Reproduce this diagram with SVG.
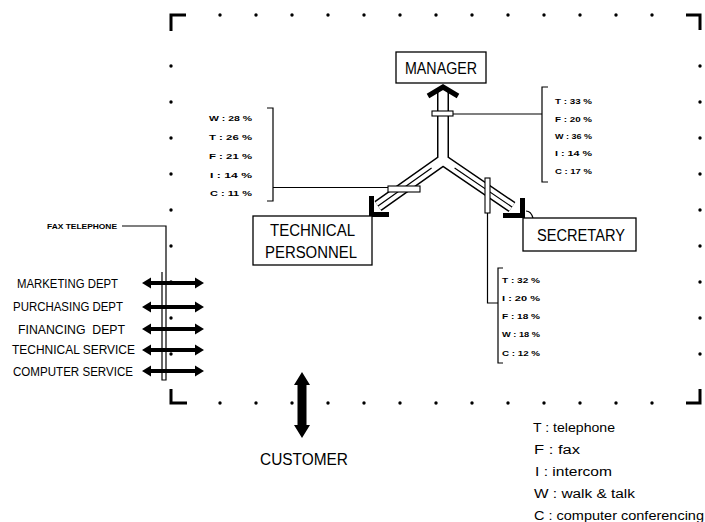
<svg xmlns="http://www.w3.org/2000/svg" width="705" height="522" viewBox="0 0 705 522">
<style>
 .t{font-family:"Liberation Sans",Arial,sans-serif;fill:#000}
 .node{font-size:16px}
 .dept{font-size:12px}
 .pct{font-size:8px;font-weight:bold}
 .leg{font-size:12.5px}
 .small{font-size:7px;font-weight:bold}
 .box{fill:#fff;stroke:#000;stroke-width:1.3}
 .ln{fill:none;stroke:#000;stroke-width:1.2}
 .corner{fill:none;stroke:#000;stroke-width:3}
 .thick{fill:none;stroke:#000;stroke-width:5}
 .xbox{fill:#fff;stroke:#000;stroke-width:1.1}
</style>
<defs>
 <path id="darrow" d="M0,0 L9,-5.5 L9,-2 L53,-2 L53,-5.5 L62,0 L53,5.5 L53,2 L9,2 L9,5.5 Z" fill="#000"/>
 <circle id="dot" r="1.7" fill="#000"/>
</defs>
<rect width="705" height="522" fill="#fff"/>

<g id="frame">
 <path class="corner" d="M171,31 V15 H186"/>
 <path class="corner" d="M686,15 H700 V30"/>
 <path class="corner" d="M171,389 V403 H187"/>
 <path class="corner" d="M686,403 H700 V389"/>
 <use href="#dot" x="220" y="15"/><use href="#dot" x="256" y="15"/><use href="#dot" x="292" y="15"/><use href="#dot" x="328" y="15"/><use href="#dot" x="364" y="15"/><use href="#dot" x="400" y="15"/><use href="#dot" x="436" y="15"/><use href="#dot" x="472" y="15"/><use href="#dot" x="508" y="15"/><use href="#dot" x="544" y="15"/><use href="#dot" x="580" y="15"/><use href="#dot" x="616" y="15"/><use href="#dot" x="652" y="15"/>
 <use href="#dot" x="220" y="403"/><use href="#dot" x="256" y="403"/><use href="#dot" x="292" y="403"/><use href="#dot" x="328" y="403"/><use href="#dot" x="364" y="403"/><use href="#dot" x="400" y="403"/><use href="#dot" x="436" y="403"/><use href="#dot" x="472" y="403"/><use href="#dot" x="508" y="403"/><use href="#dot" x="544" y="403"/><use href="#dot" x="580" y="403"/><use href="#dot" x="616" y="403"/><use href="#dot" x="652" y="403"/>
 <use href="#dot" x="171" y="66"/><use href="#dot" x="171" y="102"/><use href="#dot" x="171" y="138"/><use href="#dot" x="171" y="174"/><use href="#dot" x="171" y="210"/><use href="#dot" x="171" y="246"/><use href="#dot" x="171" y="282"/><use href="#dot" x="171" y="318"/><use href="#dot" x="171" y="354"/>
 <use href="#dot" x="700" y="66"/><use href="#dot" x="700" y="102"/><use href="#dot" x="700" y="138"/><use href="#dot" x="700" y="174"/><use href="#dot" x="700" y="210"/><use href="#dot" x="700" y="246"/><use href="#dot" x="700" y="282"/><use href="#dot" x="700" y="318"/><use href="#dot" x="700" y="354"/>
</g>

<g id="connectors">
 <!-- Y channel -->
 <path d="M443,90 V160 M378,206 L443,160 L512,207" fill="none" stroke="#000" stroke-width="12" stroke-linejoin="miter"/>
 <path d="M443,90 V160 M378,206 L443,160 L512,207" fill="none" stroke="#fff" stroke-width="9" stroke-linejoin="miter"/>
 <path class="ln" d="M431.6,168.1 L378,206 M454.6,167.9 L512,207" stroke-width="1"/>
 <!-- arrowheads -->
 <polyline class="thick" points="428,96 443,87 458,96"/>
 <path class="thick" d="M371.5,196 V214.5 H389"/>
 <path class="thick" d="M522.5,198 V215.5 H503"/>
 <path class="ln" d="M526,211 Q531,211 533,218"/>
 <!-- taps -->
 <rect class="xbox" x="432" y="111" width="21" height="5"/>
 <path class="ln" d="M453,114 H542"/>
 <path class="ln" d="M548,87 H542 V182 H548"/>
 <rect class="xbox" x="388" y="186" width="32" height="6"/>
 <path class="ln" d="M273,187.5 H388"/>
 <path class="ln" d="M267,108 H273 V201 H267"/>
 <rect class="xbox" x="485" y="178" width="5" height="35"/>
 <path class="ln" d="M487.5,213 V303 H498"/>
 <path class="ln" d="M503,268 H498 V363 H503"/>
 <!-- fax/telephone bus -->
 <path class="ln" d="M122,226 H166 V380 H162 V272"/>
 <!-- department arrows -->
 <use href="#darrow" x="142" y="283"/>
 <use href="#darrow" x="142" y="307"/>
 <use href="#darrow" x="142" y="329"/>
 <use href="#darrow" x="142" y="350"/>
 <use href="#darrow" x="142" y="371"/>
 <!-- customer arrow -->
 <path d="M302,372 L310,385 L306.5,385 L306.5,425 L310,425 L302,438 L294,425 L297.5,425 L297.5,385 L294,385 Z" fill="#000"/>
</g>

<g id="node-manager">
 <rect class="box" x="396" y="52" width="90" height="31"/>
 <text class="t node" x="405" y="73.5" textLength="72" lengthAdjust="spacingAndGlyphs">MANAGER</text>
</g>
<g id="node-technical">
 <rect class="box" x="253" y="216" width="119" height="49"/>
 <text class="t node" x="270" y="236" textLength="85" lengthAdjust="spacingAndGlyphs">TECHNICAL</text>
 <text class="t node" x="265" y="258" textLength="92" lengthAdjust="spacingAndGlyphs">PERSONNEL</text>
</g>
<g id="node-secretary">
 <rect class="box" x="523" y="218" width="113" height="33"/>
 <text class="t node" x="537" y="240.5" textLength="88" lengthAdjust="spacingAndGlyphs">SECRETARY</text>
</g>
<g id="node-customer">
 <text class="t node" x="260" y="465" textLength="88" lengthAdjust="spacingAndGlyphs">CUSTOMER</text>
</g>
<g id="node-departments">
 <text class="t small" x="47" y="228.5" textLength="70" lengthAdjust="spacingAndGlyphs">FAX TELEPHONE</text>
 <text class="t dept" x="17" y="287.5" textLength="101" lengthAdjust="spacingAndGlyphs">MARKETING DEPT</text>
 <text class="t dept" x="13" y="311" textLength="110" lengthAdjust="spacingAndGlyphs">PURCHASING DEPT</text>
 <text class="t dept" x="18" y="333.5" textLength="107" lengthAdjust="spacingAndGlyphs" xml:space="preserve">FINANCING  DEPT</text>
 <text class="t dept" x="12" y="354" textLength="123" lengthAdjust="spacingAndGlyphs">TECHNICAL SERVICE</text>
 <text class="t dept" x="13" y="375.5" textLength="120" lengthAdjust="spacingAndGlyphs">COMPUTER SERVICE</text>
</g>
<g id="stats-technical">
 <text class="t pct" x="209" y="121" textLength="43" lengthAdjust="spacingAndGlyphs">W : 28 %</text>
 <text class="t pct" x="209" y="140" textLength="43" lengthAdjust="spacingAndGlyphs">T : 26 %</text>
 <text class="t pct" x="209" y="159" textLength="43" lengthAdjust="spacingAndGlyphs">F : 21 %</text>
 <text class="t pct" x="210" y="178" textLength="42" lengthAdjust="spacingAndGlyphs">I : 14 %</text>
 <text class="t pct" x="210" y="196" textLength="42" lengthAdjust="spacingAndGlyphs">C : 11 %</text>
</g>
<g id="stats-manager">
 <text class="t pct" x="555" y="104" textLength="37" lengthAdjust="spacingAndGlyphs">T : 33 %</text>
 <text class="t pct" x="555" y="122" textLength="37" lengthAdjust="spacingAndGlyphs">F : 20 %</text>
 <text class="t pct" x="555" y="139" textLength="37" lengthAdjust="spacingAndGlyphs">W : 36 %</text>
 <text class="t pct" x="555" y="156" textLength="37" lengthAdjust="spacingAndGlyphs">I : 14 %</text>
 <text class="t pct" x="555" y="174" textLength="37" lengthAdjust="spacingAndGlyphs">C : 17 %</text>
</g>
<g id="stats-secretary">
 <text class="t pct" x="502" y="283" textLength="38" lengthAdjust="spacingAndGlyphs">T : 32 %</text>
 <text class="t pct" x="502" y="301" textLength="38" lengthAdjust="spacingAndGlyphs">I : 20 %</text>
 <text class="t pct" x="502" y="319" textLength="38" lengthAdjust="spacingAndGlyphs">F : 18 %</text>
 <text class="t pct" x="502" y="337" textLength="38" lengthAdjust="spacingAndGlyphs">W : 18 %</text>
 <text class="t pct" x="502" y="356" textLength="38" lengthAdjust="spacingAndGlyphs">C : 12 %</text>
</g>
<g id="legend">
 <text class="t leg" x="533" y="432" textLength="82" lengthAdjust="spacingAndGlyphs">T : telephone</text>
 <text class="t leg" x="534" y="454" textLength="46" lengthAdjust="spacingAndGlyphs">F : fax</text>
 <text class="t leg" x="535" y="476" textLength="77" lengthAdjust="spacingAndGlyphs">I : intercom</text>
 <text class="t leg" x="534" y="498" textLength="101" lengthAdjust="spacingAndGlyphs">W : walk &amp; talk</text>
 <text class="t leg" x="534" y="520" textLength="170" lengthAdjust="spacingAndGlyphs">C : computer conferencing</text>
</g>
</svg>
